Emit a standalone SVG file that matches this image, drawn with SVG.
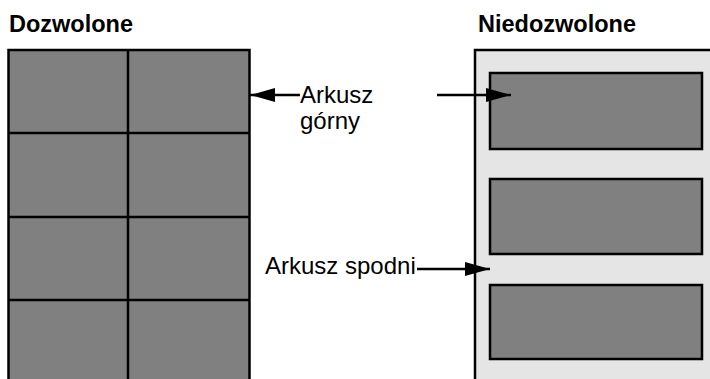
<svg xmlns="http://www.w3.org/2000/svg" width="710" height="379" viewBox="0 0 710 379">
  <style>
    .title { font-family: "Liberation Sans", Arial, sans-serif; font-weight: bold; font-size: 23.5px; fill: #000; }
    .label { font-family: "Liberation Sans", Arial, sans-serif; font-size: 24px; fill: #000; }
    .sheet { fill: #808080; stroke: #000; stroke-width: 2.5; }
    .panel { fill: #e5e5e5; stroke: #000; stroke-width: 2.5; }
    .conn { stroke: #000; stroke-width: 2.5; fill: none; marker-end: url(#arrow); }
  </style>
  <defs>
    <marker id="arrow" markerUnits="userSpaceOnUse" markerWidth="26" markerHeight="16" refX="25" refY="8" orient="auto">
      <path d="M0,1 L25,8 L0,15 Z" fill="#000"/>
    </marker>
  </defs>
  <rect width="710" height="379" fill="#fff"/>

  <text class="title" x="9" y="32">Dozwolone</text>
  <text class="title" x="478" y="32">Niedozwolone</text>

  <g id="allowed">
    <rect class="sheet" x="8.5" y="50" width="241" height="340"/>
    <g stroke="#000" stroke-width="2.5">
      <line x1="128" y1="50" x2="128" y2="390"/>
      <line x1="8.5" y1="133" x2="249.5" y2="133"/>
      <line x1="8.5" y1="217" x2="249.5" y2="217"/>
      <line x1="8.5" y1="300" x2="249.5" y2="300"/>
    </g>
  </g>

  <g id="not-allowed">
    <rect class="panel" x="475" y="50" width="250" height="340"/>
    <rect id="sheet-1" class="sheet" x="490" y="73" width="212" height="76"/>
    <rect id="sheet-2" class="sheet" x="490" y="179" width="212" height="75"/>
    <rect id="sheet-3" class="sheet" x="490" y="285" width="212" height="74"/>
  </g>

  <g id="label-top">
    <text class="label" x="300" y="103">Arkusz</text>
    <text class="label" x="300" y="129">górny</text>
  </g>
  <g id="label-bottom">
    <text class="label" x="265" y="274">Arkusz spodni</text>
  </g>

  <g id="connectors">
    <line class="conn" x1="300" y1="95" x2="250" y2="95"/>
    <line class="conn" x1="437" y1="95" x2="511" y2="95"/>
    <line class="conn" x1="417" y1="269" x2="490" y2="269"/>
  </g>
</svg>
